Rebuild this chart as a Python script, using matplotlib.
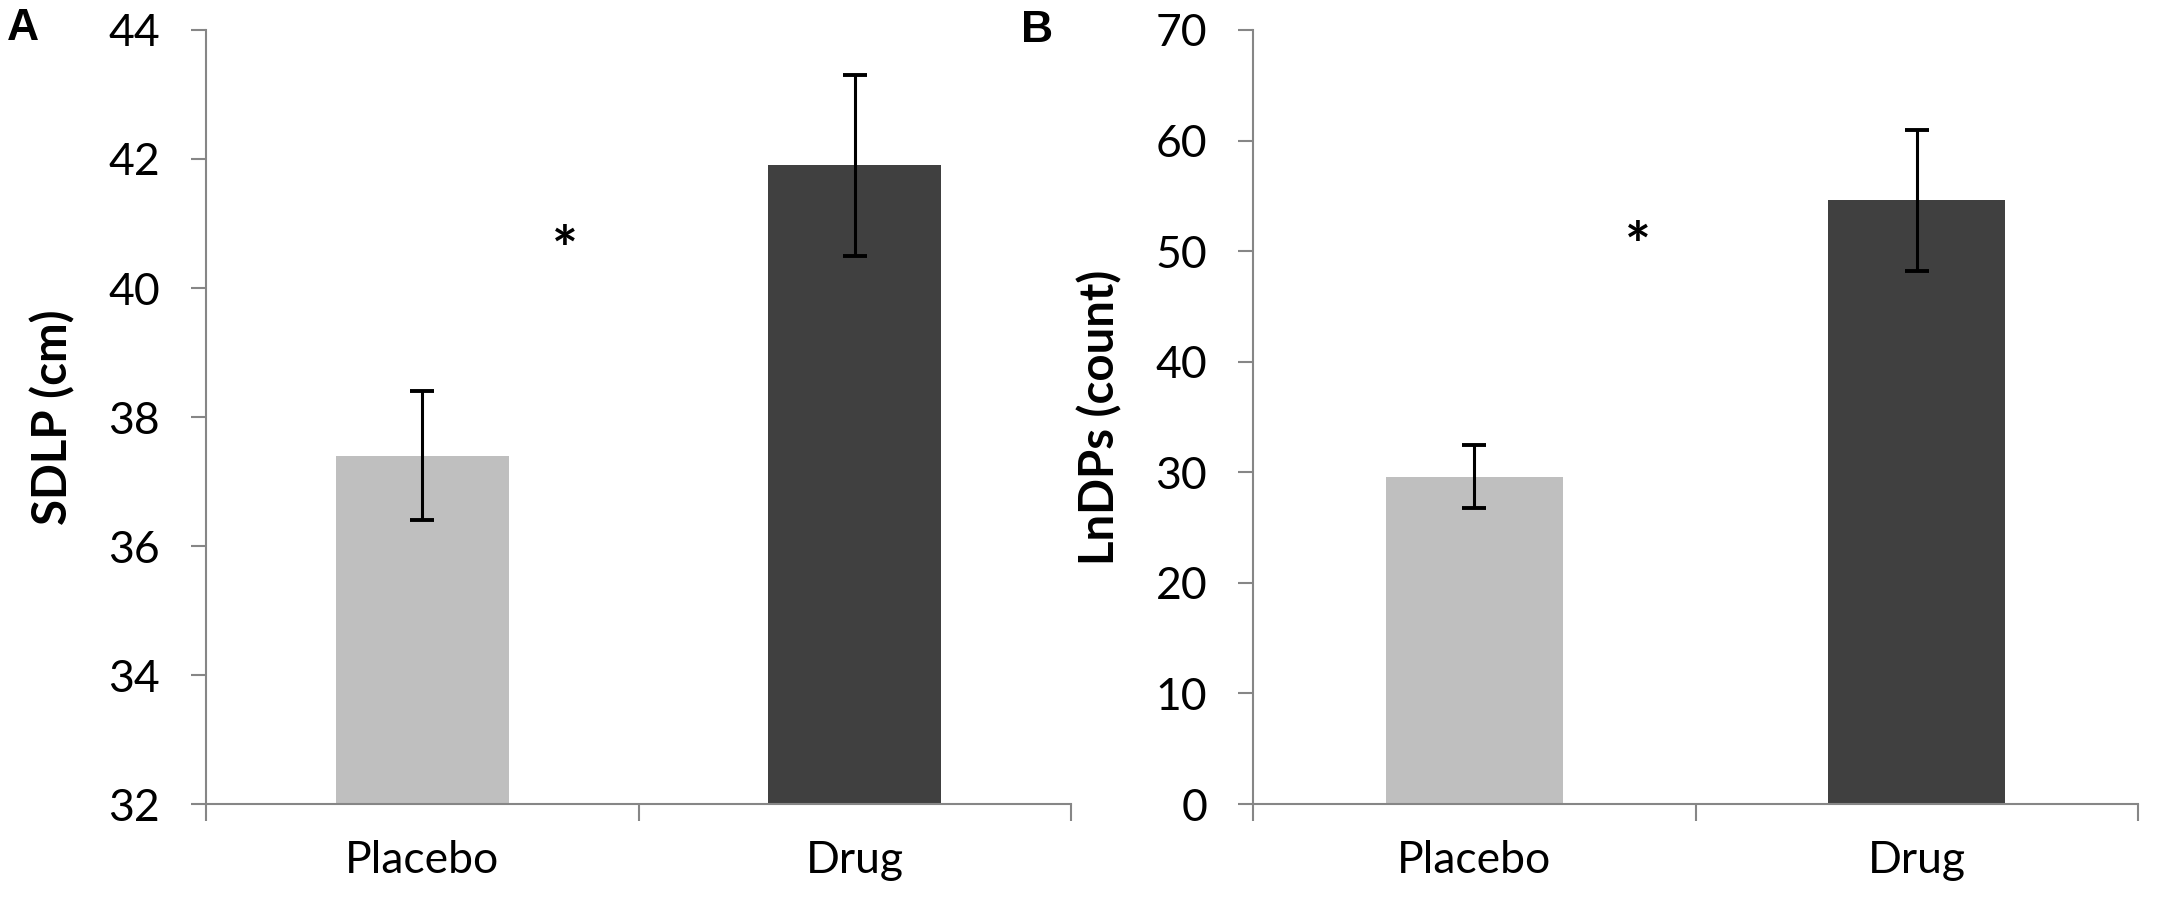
import numpy as np
import matplotlib
matplotlib.use('Agg')
import matplotlib.pyplot as plt
from matplotlib.ticker import FixedLocator, NullFormatter

# ======== Data ========
groups = ['Placebo', 'Drug']
bar_colors = ['#BFBFBF', '#404040']

sdlp_mean = [37.4, 41.9]
sdlp_err = [1.0, 1.4]

lndp_mean = [29.6, 54.6]
lndp_err = [2.85, 6.4]

# ======== Style ========
plt.rcParams['font.family'] = ['Lato', 'DejaVu Sans']
AXIS_GRAY = '#868686'
TICK_FS = 32

fig = plt.figure(figsize=(21.59, 9.09), dpi=100)
ax_a = fig.add_axes([0.0954, 0.1155, 0.4007, 0.8515])
ax_b = fig.add_axes([0.5804, 0.1155, 0.4100, 0.8515])


def draw_panel(ax, means, errs, ylim, yticks, ylabel, star_xy):
    x = np.arange(len(groups))
    ax.bar(x, np.array(means) - ylim[0], bottom=ylim[0], width=0.4,
           color=bar_colors, zorder=2)
    ax.errorbar(x, means, yerr=errs, fmt='none', ecolor='black',
                elinewidth=2.2, capsize=8.3, capthick=2.8, zorder=3)

    ax.set_xlim(-0.5, len(groups) - 0.5)
    ax.set_ylim(*ylim)

    # category boundary ticks, labels at centres
    ax.xaxis.set_major_locator(FixedLocator(np.arange(len(groups) + 1) - 0.5))
    ax.xaxis.set_major_formatter(NullFormatter())
    ax.xaxis.set_minor_locator(FixedLocator(x))
    ax.set_xticklabels(groups, minor=True)
    ax.tick_params(axis='x', which='major', direction='out', length=12,
                   width=1.5, color=AXIS_GRAY)
    ax.tick_params(axis='x', which='minor', length=0, pad=26,
                   labelsize=TICK_FS)

    ax.set_yticks(yticks)
    ax.tick_params(axis='y', direction='out', length=11, width=1.5,
                   color=AXIS_GRAY, pad=22, labelsize=TICK_FS)

    for side in ['top', 'right']:
        ax.spines[side].set_visible(False)
    for side in ['left', 'bottom']:
        ax.spines[side].set_color(AXIS_GRAY)
        ax.spines[side].set_linewidth(1.5)

    ax.set_ylabel(ylabel, fontsize=34, fontweight='bold', labelpad=24)
    ax.text(star_xy[0], star_xy[1], '*', fontsize=44, fontweight='bold',
            ha='center', va='center')


draw_panel(ax_a, sdlp_mean, sdlp_err, (32, 44), np.arange(32, 45, 2),
           'SDLP (cm)', (0.33, 40.55))
draw_panel(ax_b, lndp_mean, lndp_err, (0, 70), np.arange(0, 71, 10),
           'LnDPs (count)', (0.37, 50.2))

fig.text(7 / 2159, 1 - 40 / 909, 'A', fontsize=32, fontweight='bold',
         family='Liberation Sans', va='baseline', ha='left')
fig.text(1021 / 2159, 1 - 42 / 909, 'B', fontsize=32, fontweight='bold',
         family='Liberation Sans', va='baseline', ha='left')

plt.savefig('out.png', dpi=100)
